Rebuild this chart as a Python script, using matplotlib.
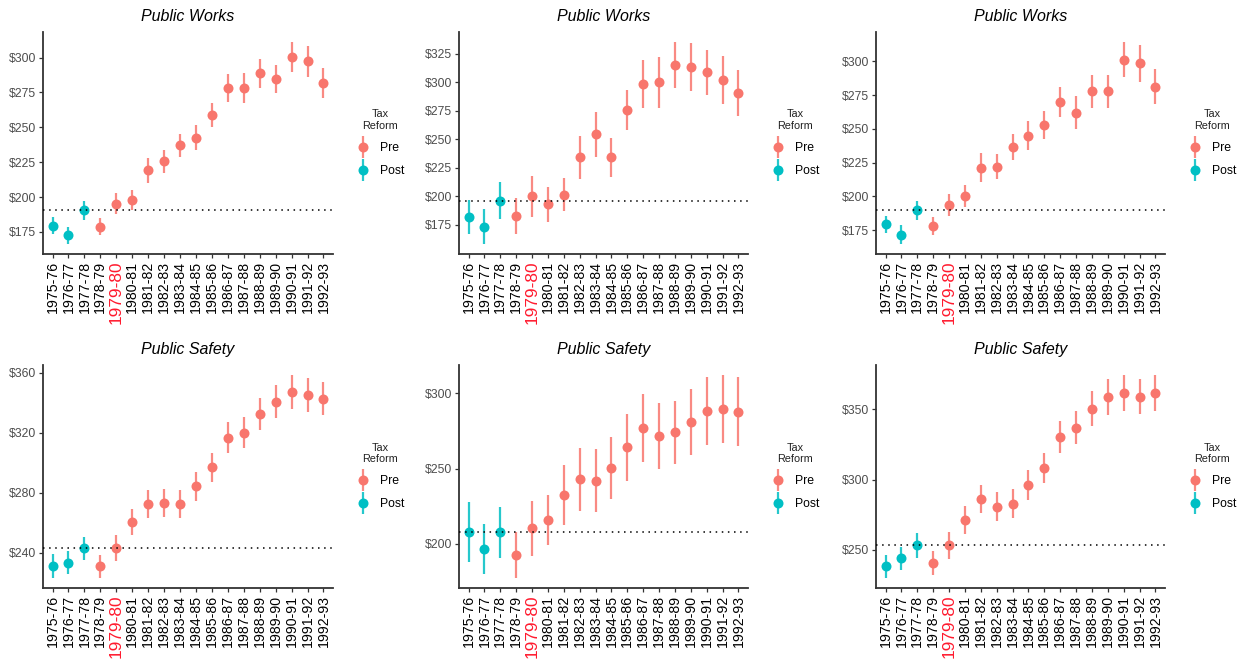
import numpy as np
import matplotlib.pyplot as plt
from matplotlib.lines import Line2D
from matplotlib.legend_handler import HandlerTuple

plt.rcParams['font.family'] = ['Liberation Sans', 'DejaVu Sans']

years = ["1975-76", "1976-77", "1977-78", "1978-79", "1979-80", "1980-81",
         "1981-82", "1982-83", "1983-84", "1984-85", "1985-86", "1986-87",
         "1987-88", "1988-89", "1989-90", "1990-91", "1991-92", "1992-93"]
reform = ["Post"] * 3 + ["Pre"] * 15
reform_year = "1979-80"
base_year = "1977-78"

# public works, three specifications
pw_a_est = [179.5, 172.6, 190.7, 178.8, 195.2, 197.8, 219.1, 225.5, 237.1,
            242.4, 258.7, 278.2, 277.9, 288.9, 284.6, 300.5, 297.2, 281.5]
pw_a_err = [6.0, 6.2, 6.8, 6.3, 7.5, 7.4, 8.8, 8.0, 8.4,
            8.9, 8.8, 9.8, 10.8, 10.4, 10.2, 10.6, 10.9, 10.7]
pw_b_est = [181.9, 173.6, 196.1, 182.8, 200.1, 193.2, 201.6, 234.2, 254.2,
            234.2, 275.6, 298.7, 299.9, 314.9, 313.2, 308.5, 301.9, 290.9]
pw_b_err = [15.2, 15.2, 16.3, 15.6, 17.9, 15.3, 14.7, 18.8, 19.7,
            17.3, 17.9, 21.1, 22.3, 20.2, 21.0, 20.1, 21.4, 20.2]
pw_c_est = [179.4, 171.8, 189.7, 178.2, 193.9, 200.2, 221.3, 222.1, 236.5,
            244.9, 253.2, 270.1, 262.0, 277.9, 277.9, 301.2, 298.5, 281.4]
pw_c_err = [6.2, 6.9, 7.3, 6.9, 8.3, 8.3, 10.9, 9.2, 9.8,
            10.8, 10.4, 11.2, 12.1, 12.4, 12.3, 13.1, 13.5, 13.1]

# public safety, three specifications
ps_a_est = [231.4, 233.6, 243.1, 231.2, 243.3, 260.6, 272.7, 273.1, 272.5,
            284.4, 297.0, 316.7, 320.0, 332.8, 340.6, 347.0, 345.0, 342.8]
ps_a_err = [8.0, 7.5, 7.7, 7.7, 8.5, 8.8, 9.2, 9.5, 9.4,
            9.5, 9.8, 10.4, 10.3, 10.7, 11.0, 11.4, 11.2, 11.0]
ps_b_est = [207.9, 196.7, 207.7, 192.7, 210.4, 215.7, 232.7, 242.8, 241.9,
            250.6, 264.2, 276.8, 271.7, 274.0, 281.0, 288.3, 289.4, 287.9]
ps_b_err = [20.0, 16.8, 17.0, 15.3, 18.2, 16.6, 19.9, 21.2, 21.0,
            20.5, 22.2, 22.6, 21.9, 21.2, 21.9, 22.8, 22.7, 22.7]
ps_c_est = [238.2, 244.1, 253.3, 240.5, 253.1, 271.3, 286.3, 280.6, 282.7,
            296.0, 308.3, 330.3, 337.0, 350.5, 359.0, 361.8, 359.0, 361.6]
ps_c_err = [8.2, 8.2, 8.8, 8.6, 9.6, 9.8, 10.2, 10.3, 10.4,
            10.8, 10.8, 11.6, 11.8, 12.3, 12.7, 12.6, 12.6, 12.6]

titles = ["Public Works"] * 3 + ["Public Safety"] * 3
estimates = [pw_a_est, pw_b_est, pw_c_est, ps_a_est, ps_b_est, ps_c_est]
errors = [pw_a_err, pw_b_err, pw_c_err, ps_a_err, ps_b_err, ps_c_err]
yticks = [
    [175, 200, 225, 250, 275, 300],
    [175, 200, 225, 250, 275, 300, 325],
    [175, 200, 225, 250, 275, 300],
    [240, 280, 320, 360],
    [200, 250, 300],
    [250, 300, 350],
]

colors = {"Pre": "#F8766D", "Post": "#00BFC4"}

W, H = 1249, 665
fig = plt.figure(figsize=(W / 100, H / 100), dpi=100)

# axes boxes in pixels: left, top, right, bottom
boxes = [(43, 32, 333, 254), (459, 32, 748, 254), (876, 32, 1165, 254),
         (43, 365, 333, 588), (459, 365, 748, 588), (876, 365, 1165, 588)]

x = np.arange(1, len(years) + 1)

for title, est, err, ticks, (l, t, r, b) in zip(titles, estimates, errors,
                                                yticks, boxes):
    ax = fig.add_axes([l / W, 1 - b / H, (r - l) / W, (b - t) / H])
    est = np.array(est)
    err = np.array(err)
    for i in range(len(years)):
        c = colors[reform[i]]
        ax.plot([x[i], x[i]], [est[i] - err[i], est[i] + err[i]],
                color=c, lw=1.6, alpha=0.85, solid_capstyle='butt', zorder=2)
        ax.plot(x[i], est[i], 'o', color=c, ms=7.2, mec='none', zorder=3)
    base = est[years.index(base_year)]
    ax.axhline(base, color='black', ls=(0, (1, 3)), lw=1.1, zorder=4)

    lo = (est - err).min()
    hi = (est + err).max()
    pad = 0.05 * (hi - lo)
    ax.set_ylim(lo - pad, hi + pad)
    ax.set_xlim(0.4, len(years) + 0.6)

    ax.set_yticks(ticks)
    ax.set_yticklabels([f"${v}" for v in ticks], fontsize=8.8, color='#4D4D4D')
    ax.set_xticks(x)
    ax.set_xticklabels(years, rotation=90, fontsize=10.2, color='black')
    for lab in ax.get_xticklabels():
        if lab.get_text() == reform_year:
            lab.set_color('#FF1A2E')
            lab.set_fontsize(12.4)

    for side in ['top', 'right']:
        ax.spines[side].set_visible(False)
    for side in ['left', 'bottom']:
        ax.spines[side].set_color('#333333')
        ax.spines[side].set_linewidth(1.3)
    ax.tick_params(axis='both', length=3, width=0.9, color='#333333', pad=2)

    ax.set_title(title, fontsize=11.5, style='italic', pad=8)

    # legend keys: a dot with its interval line through it
    handles = []
    for key in ["Pre", "Post"]:
        bar = Line2D([], [], marker='|', ms=16, mew=1.6, color=colors[key],
                     alpha=0.85, ls='none')
        dot = Line2D([], [], marker='o', ms=7.2, color=colors[key], mec='none',
                     ls='none')
        handles.append((bar, dot))
    leg = ax.legend(handles, ["Pre", "Post"], title="Tax\nReform",
                    loc='center left', bbox_to_anchor=(1.04, 0.5),
                    frameon=False, fontsize=8.8, title_fontsize=7.8,
                    handler_map={tuple: HandlerTuple(ndivide=1, pad=0)},
                    handlelength=1.2, handletextpad=0.8, labelspacing=0.9)
    leg.get_title().set_multialignment('center')
    leg.get_title().set_color('#222222')

fig.savefig("out.png", dpi=100, facecolor='white')
